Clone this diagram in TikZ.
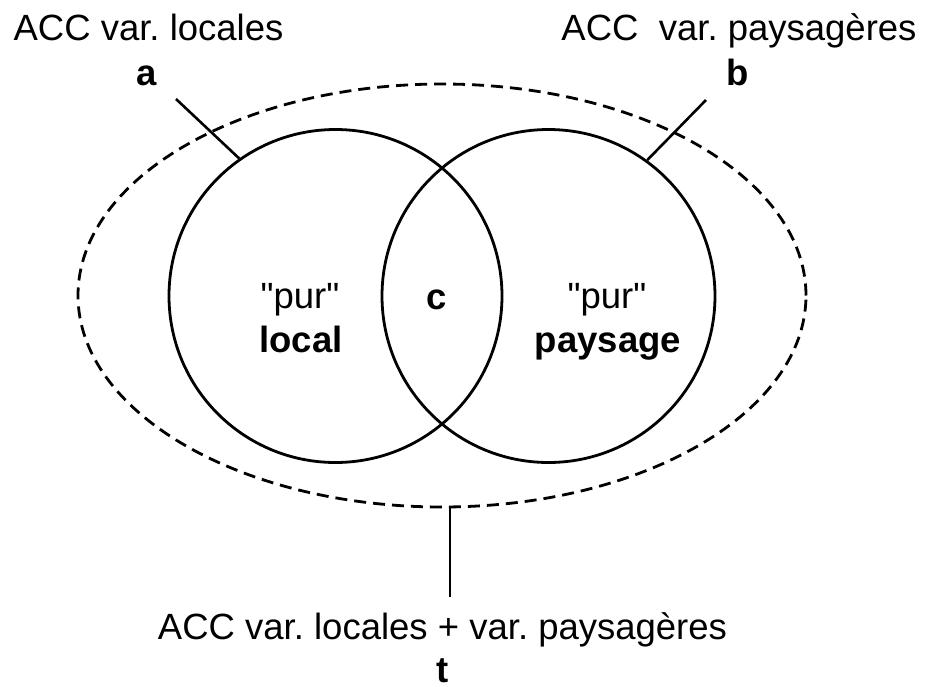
\documentclass[tikz,border=0pt]{standalone}
\usepackage{fontspec}
\setmainfont{Liberation Sans}[Ligatures=TeXOff]
\usetikzlibrary{shapes.geometric}
\frenchspacing
\begin{document}
\begin{tikzpicture}[x=1pt,y=-1pt,
  setc/.style={circle, draw, line width=2.8pt, minimum size=333pt, inner sep=0pt},
  allvars/.style={ellipse, draw, line width=2.8pt, dash pattern=on 12pt off 7pt,
                  minimum width=728pt, minimum height=423pt, inner sep=0pt},
  lbl/.style={font=\fontsize{36.5}{43}\selectfont, inner sep=0pt, anchor=base},
  lblb/.style={lbl, font=\fontsize{36.5}{43}\selectfont\bfseries},
  leader/.style={draw, line width=2.6pt}]
\useasboundingbox (0,0) rectangle (927,686);

% outer dashed set: both groups of variables together
\node[allvars] (T) at (442,295.5) {};

% the two sets of variables
\node[setc] (L) at (335.5,296) {};
\node[setc] (P) at (548.5,296) {};

% labels above
\node[lbl]  (accA) at (148.5,40) {ACC var. locales};
\node[lblb] (a)    at (147,85)   {a};
\node[lbl]  (accB) at (739,40)   {ACC\ \ var. paysagères};
\node[lblb] (b)    at (738,85)   {b};

% labels inside the sets
\node[lbl]  (purL) at (300,308) {"pur"};
\node[lblb] (loc)  at (301,352) {local};
\node[lblb] (c)    at (437,309) {c};
\node[lbl]  (purP) at (607,308) {"pur"};
\node[lblb] (pay)  at (608,352) {paysage};

% label below
\node[lbl]  (accT) at (442.5,639) {ACC var. locales + var. paysagères};
\node[lblb] (t)    at (443,682)   {t};

% leader lines
\coordinate (aend) at (176,99);
\coordinate (bend) at (706,100);
\coordinate (ttop) at (450,507);
\coordinate (tbot) at (450,597);
\draw[leader] (aend) -- (L.125.8);
\draw[leader] (bend) -- (P.54.4);
\draw[leader] (ttop) -- (tbot);
\end{tikzpicture}
\end{document}
